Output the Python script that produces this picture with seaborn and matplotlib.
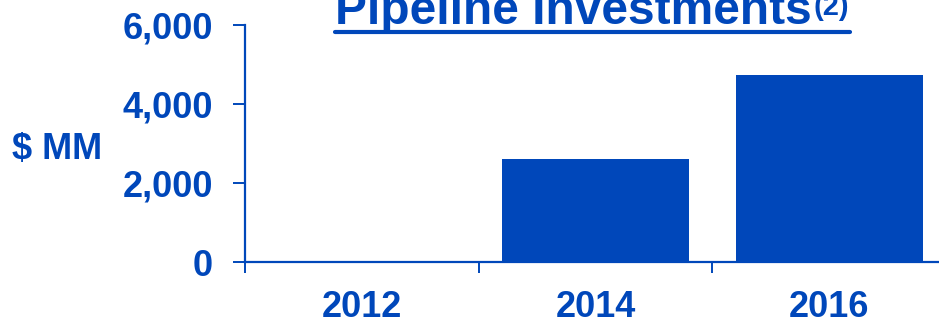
import matplotlib
matplotlib.use("Agg")
import matplotlib.pyplot as plt
import seaborn as sns
import pandas as pd
from matplotlib.lines import Line2D
from matplotlib.ticker import FixedLocator, FuncFormatter

years = ["2012", "2014", "2016"]
investments = [0, 2620, 4740]
y_ticks = [0, 2000, 4000, 6000]
title_text = "Pipeline Investments"
title_note = "(2)"
y_label = "$ MM"

BLUE = "#0047BA"
W, H, DPI = 939, 322, 100

sns.set_theme(style="white")
plt.rcParams["font.family"] = ["Liberation Sans", "DejaVu Sans"]
plt.rcParams["font.weight"] = "bold"

fig = plt.figure(figsize=(W / DPI, H / DPI), dpi=DPI)
ax = fig.add_axes([245 / W, (H - 262) / H, (939 - 245) / W, (262 - 25) / H])

df = pd.DataFrame({"year": years, "value": investments})
sns.barplot(data=df, x="year", y="value", color=BLUE, saturation=1,
            width=0.8, ax=ax, edgecolor="none")

ax.set_ylim(0, 6000)
ax.set_xlim(-0.5, 2.47)
ax.set_yticks(y_ticks)
ax.yaxis.set_major_formatter(FuncFormatter(lambda v, p: f"{int(v):,}"))
ax.set_xlabel("")
ax.set_ylabel("")

for s in ["top", "right"]:
    ax.spines[s].set_visible(False)
for s in ["left", "bottom"]:
    ax.spines[s].set_color(BLUE)
    ax.spines[s].set_linewidth(1.6)

ax.tick_params(axis="y", direction="out", length=8.6, width=1.4, color=BLUE,
               labelcolor=BLUE, labelsize=26, pad=14.5, left=True)
ax.tick_params(axis="x", which="major", length=0, labelcolor=BLUE,
               labelsize=26, pad=20.5)
ax.xaxis.set_minor_locator(FixedLocator([-0.5, 0.5, 1.5]))
ax.tick_params(axis="x", which="minor", direction="out", length=8, width=1.4,
               color=BLUE, bottom=True)
for lab in ax.get_xticklabels() + ax.get_yticklabels():
    lab.set_fontweight("bold")

fig.text(12 / W, 1 - 150 / H, y_label, color=BLUE, fontsize=26,
         fontweight="bold", ha="left", va="center")

t = fig.text(335 / W, 1 - 24 / H, title_text, color=BLUE, fontsize=34.5,
             fontweight="bold", ha="left", va="baseline")
fig.canvas.draw()
bb = t.get_window_extent()
fig.text((bb.x1 + 2) / W, 1 - 15 / H, title_note, color=BLUE, fontsize=21,
         fontweight="bold", ha="left", va="baseline")
fig.add_artist(Line2D([335 / W, 850 / W], [1 - 32 / H, 1 - 32 / H],
                      transform=fig.transFigure, color=BLUE, linewidth=3))

fig.savefig("out.png", dpi=DPI)
